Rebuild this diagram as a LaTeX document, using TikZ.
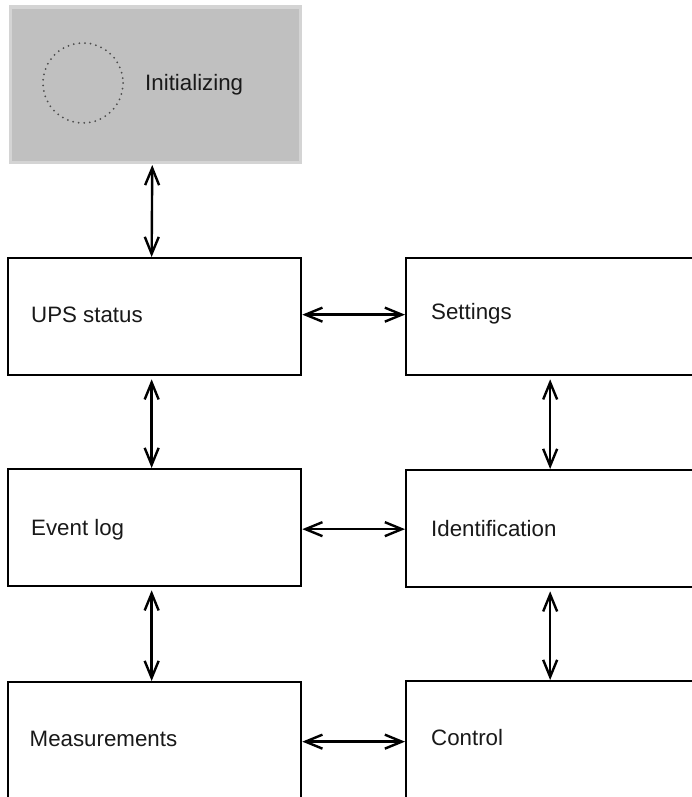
\documentclass[tikz,border=0pt]{standalone}
\usepackage{fontspec}
\setmainfont{Liberation Sans}
\usetikzlibrary{arrows.meta}
\definecolor{initfill}{HTML}{C0C0C0}
\definecolor{initedge}{HTML}{D4D4D4}
\begin{document}
\begin{tikzpicture}[x=1pt,y=-1pt,
  box/.style={draw, line width=2.3pt, fill=white, minimum width=293pt, minimum height=117pt,
    inner sep=0pt, anchor=north west},
  lbl/.style={anchor=base west, inner sep=0pt, font=\fontsize{22.3}{26}\selectfont, text=black!90},
  link/.style={line width=2.4pt, {Straight Barb[length=17pt,width=14pt,line width=2.4pt]}-{Straight Barb[length=17pt,width=14pt,line width=2.4pt]}}
]
\useasboundingbox (0,0) rectangle (692,797);
\clip (0,0) rectangle (692,797);
\node[draw=initedge, fill=initfill, line width=3.5pt, minimum width=290pt, minimum height=155pt, anchor=north west, inner sep=0pt] (init) at (8.5,5.5) {};
\draw[black!70, line width=2pt, line cap=round, dash pattern=on 0pt off 5.6pt] (83,83) circle (40);
\node[lbl] (initt) at (145,91) {Initializing};

\node[box] (ups) at (7,257) {};
\node[lbl] (upst) at (31,322) {UPS status};
\node[box] (set) at (405,257) {};
\node[lbl] (sett) at (431,319) {Settings};
\node[box] (evt) at (7,468) {};
\node[lbl] (evtt) at (31,535) {Event log};
\node[box] (idf) at (405,469) {};
\node[lbl] (idft) at (431,536) {Identification};
\node[box] (meas) at (7,681) {};
\node[lbl] (meast) at (29.5,746) {Measurements};
\node[box] (ctl) at (405,680) {};
\node[lbl] (ctlt) at (431,745) {Control};

\draw[link, shorten <=1pt] ([xshift=-3pt]init.south) -- ([xshift=-3pt]ups.north);
\draw[link] ([yshift=2pt]ups.east) -- ([yshift=2pt]ups.east -| set.west);
\draw[link, shorten <=3pt] ([xshift=-3pt]ups.south) -- ([xshift=-3pt]evt.north);
\draw[link, shorten <=3pt] ([xshift=-2.5pt]set.south) -- ([xshift=-2.5pt]idf.north);
\draw[link] ([yshift=-1.5pt]evt.east) -- ([yshift=-1.5pt]evt.east -| idf.west);
\draw[link, shorten <=3pt] ([xshift=-3pt]evt.south) -- ([xshift=-3pt]meas.north);
\draw[link, shorten <=3pt] ([xshift=-2.5pt]idf.south) -- ([xshift=-2.5pt]ctl.north);
\draw[link] ([yshift=-1pt]meas.east) -- ([yshift=-1pt]meas.east -| ctl.west);
\end{tikzpicture}
\end{document}
